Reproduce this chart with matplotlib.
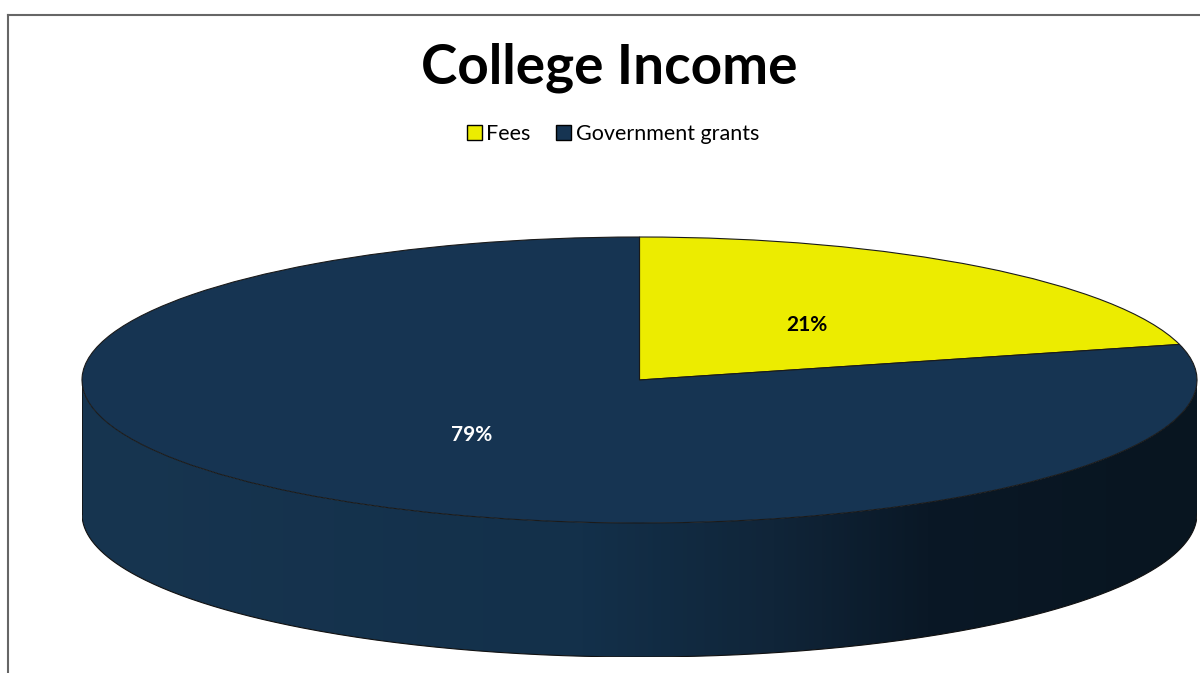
import numpy as np
import matplotlib
matplotlib.use("Agg")
import matplotlib.pyplot as plt
from matplotlib.patches import Patch, Polygon
from matplotlib.lines import Line2D
from matplotlib.colors import LinearSegmentedColormap

plt.rcParams['font.family'] = ['Lato', 'DejaVu Sans']

# Data
categories = ["Fees", "Government grants"]
values = [21, 79]
colors = ["#ECEC00", "#163452"]
title = "College Income"

W, H = 1200, 673
fig = plt.figure(figsize=(W / 100, H / 100), dpi=100)

# chart-area border (left and top only visible)
fig.add_artist(Line2D([8 / W, 8 / W], [0, 1 - 15 / H], color="#666666", lw=1.5))
fig.add_artist(Line2D([8 / W, 1], [1 - 15 / H, 1 - 15 / H], color="#666666", lw=1.5))

# geometry of the 3D pie (pixels)
left_px, right_px = 82, 1197
top_px, center_px, bottom_px = 237, 380, 657
ry = center_px - top_px
depth = (bottom_px - center_px - ry) / ry

ax = fig.add_axes([left_px / W, 1 - bottom_px / H, (right_px - left_px) / W, (bottom_px - top_px) / H])

wedges, texts, autotexts = ax.pie(
    values, colors=colors, startangle=90, counterclock=False,
    autopct=lambda p: f"{p:.0f}%", pctdistance=0.49,
    wedgeprops=dict(edgecolor="#1a1a1a", linewidth=0.8),
    textprops=dict(fontsize=15, fontweight="bold"))
for w in wedges:
    w.set_zorder(3)
for a in autotexts:
    a.set_zorder(4)
autotexts[0].set_color("black")
autotexts[1].set_color("white")

# side wall (front half)
t = np.linspace(np.pi, 2 * np.pi, 400)
xs = np.cos(t)
upper = np.sin(t)
lower = upper - depth
poly_xy = np.vstack([np.column_stack([xs, upper]), np.column_stack([xs[::-1], lower[::-1]])])
clip = Polygon(poly_xy, closed=True, transform=ax.transData, facecolor="none", edgecolor="none")
ax.add_patch(clip)
cmap = LinearSegmentedColormap.from_list(
    "side", [(0.0, "#173550"), (0.45, "#13304a"), (0.62, "#102539"), (0.76, "#0a1826"), (1.0, "#081520")])
grad = np.linspace(0, 1, 512)[None, :]
im = ax.imshow(grad, extent=(-1, 1, -1 - depth, 0), aspect="auto", cmap=cmap, zorder=1, interpolation="bilinear")
im.set_clip_path(clip)
ax.plot(xs, lower, color="#111111", lw=0.8, zorder=2)
ax.plot([-1, -1], [0, -depth], color="#111111", lw=0.6, zorder=2)
ax.plot([1, 1], [0, -depth], color="#111111", lw=0.6, zorder=2)

ax.set_aspect("auto")
ax.set_xlim(-1, 1)
ax.set_ylim(-1 - depth, 1)
ax.axis("off")

fig.text(609.5 / W, 1 - 68 / H, title, ha="center", va="center", fontsize=39.5, fontweight="bold")

handles = [Patch(facecolor=c, edgecolor="black", linewidth=1.0) for c in colors]
fig.legend(handles, categories, loc="center", bbox_to_anchor=(613 / W, 1 - 134 / H), ncol=2,
           frameon=False, fontsize=15.5, handlelength=0.7, handleheight=0.7,
           handletextpad=0.2, columnspacing=1.2)

fig.savefig("out.png", dpi=100)
